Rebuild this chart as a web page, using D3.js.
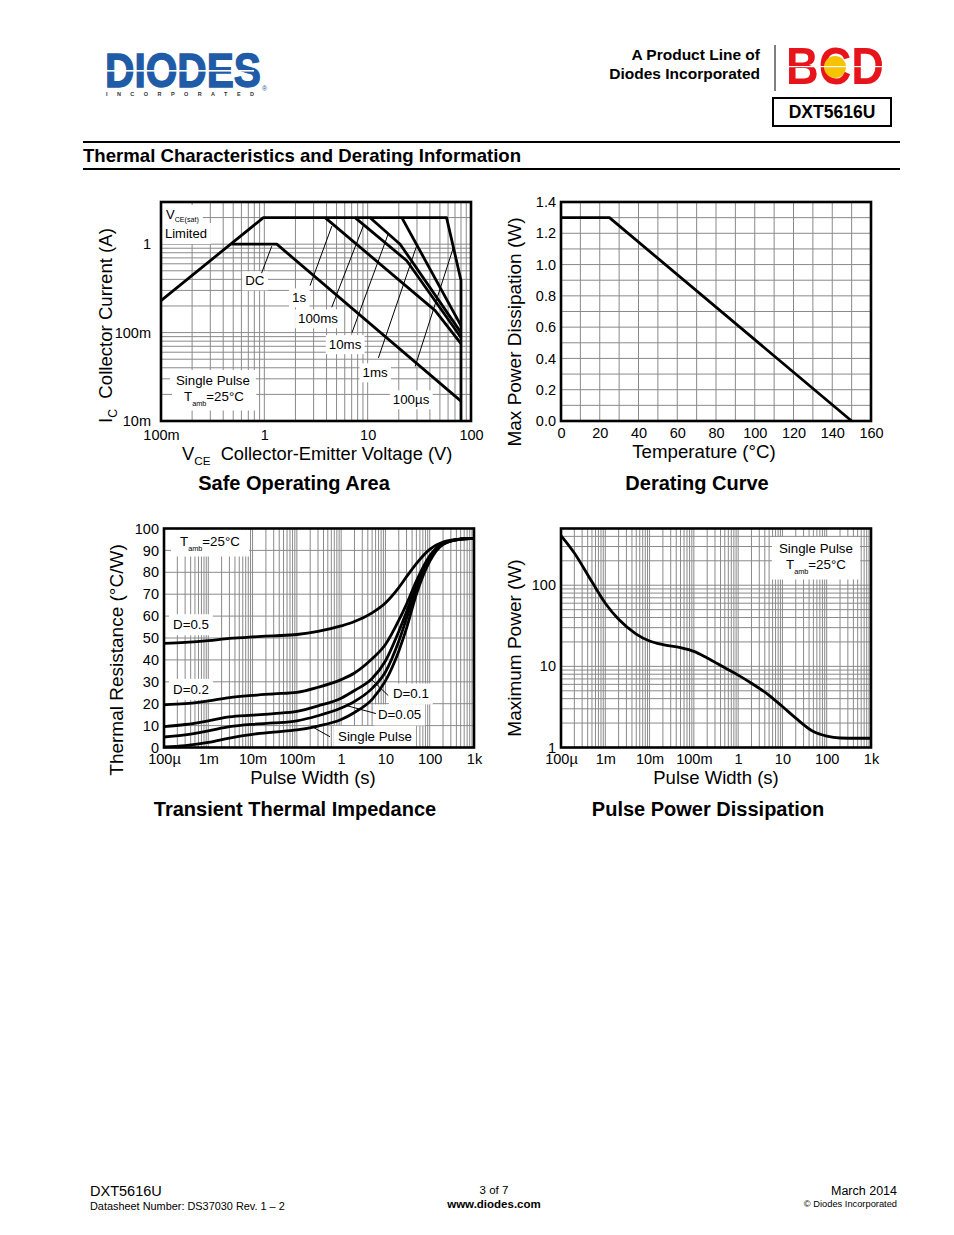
<!DOCTYPE html>
<html>
<head>
<meta charset="utf-8">
<script src="https://cdn.jsdelivr.net/npm/d3@7"></script>
<style>
  body { margin: 0; background: #fff; }
  svg { display: block; font-family: "Liberation Sans", Arial, sans-serif; }
</style>
</head>
<body>
<svg id="page" width="954" height="1235"></svg>
<script>
// ---------- data ----------
// safe operating area (V, A)
const soaXTicks = [0.1, 1, 10, 100];
const soaXLabels = ["100m", "1", "10", "100"];
const soaYTicks = [0.01, 0.1, 1];
const soaYLabels = ["10m", "100m", "1"];
const soaVsat100us = [[0.1, 0.23], [0.98, 2], [58, 2], [80, 0.39], [80, 0.01]];
const soaDC = [[0.48, 1], [1.32, 1], [80, 0.0168]];
const soa1s = [[3.87, 2], [45, 0.177], [80, 0.075]];
const soa100ms = [[7.55, 2], [23.9, 0.65], [80, 0.088]];
const soa10ms = [[10.5, 2], [20.6, 1.0], [80, 0.1]];
const soa1ms = [[21.4, 2], [80, 0.12]];
const soaLabels = [
  { text: "DC", x: 0.81, y: 0.39, from: [0.94, 0.47], to: [1.18, 0.95] },
  { text: "1s", x: 2.17, y: 0.25, from: [2.77, 0.34], to: [4.5, 1.6] },
  { text: "100ms", x: 3.31, y: 0.145, from: [4.49, 0.193], to: [9.09, 1.62] },
  { text: "10ms", x: 6.04, y: 0.074, from: [7.04, 0.0994], to: [15.9, 1.33] },
  { text: "1ms", x: 11.8, y: 0.0355, from: [12.7, 0.0517], to: [29.9, 0.97] },
  { text: "100µs", x: 26.3, y: 0.0176, from: [28.8, 0.0414], to: [67.6, 0.92] }
];

// derating
const derTemp = [0, 25, 150];
const derPower = [1.3, 1.3, 0];
const derXTicks = [0, 20, 40, 60, 80, 100, 120, 140, 160];
const derYTicks = [0, 0.2, 0.4, 0.6, 0.8, 1.0, 1.2, 1.4];

// transient thermal impedance
const pwTicks = [1e-4, 1e-3, 1e-2, 1e-1, 1, 10, 100, 1000];
const pwLabels = ["100µ", "1m", "10m", "100m", "1", "10", "100", "1k"];
const ztTime = [1e-4, 3e-4, 1e-3, 3e-3, 1e-2, 3e-2, 0.1, 0.3, 1, 2, 5, 10, 20, 30, 50, 100, 200, 500, 1000];
const ztD05 = [47.5, 48, 48.8, 49.8, 50.5, 51, 51.6, 53, 55.5, 57.5, 61.5, 66, 73, 78, 84, 90.5, 93.8, 95.2, 95.5];
const ztD02 = [19.5, 20, 21.3, 22.8, 23.8, 24.5, 25.2, 27.5, 31, 34, 40.5, 47, 58, 65.5, 76, 87.5, 93.3, 95.1, 95.5];
const ztD01 = [9.5, 10.5, 12.2, 14, 14.8, 15.5, 16.5, 19, 22.5, 26, 31.5, 39.5, 53, 62, 74, 86.5, 93.2, 95.1, 95.5];
const ztD005 = [4.8, 5.8, 7.6, 9.5, 10.6, 11.2, 12.2, 14.5, 18, 21, 27, 34.5, 48.5, 59, 72.5, 86, 93, 95.1, 95.5];
const ztSingle = [0.3, 0.9, 2.3, 4.3, 6, 7, 8, 9.8, 12.8, 16, 22, 30.4, 44, 54.5, 70, 85, 92.7, 95.1, 95.5];
const ztYTicks = [0, 10, 20, 30, 40, 50, 60, 70, 80, 90, 100];

// pulse power
const ppTime = [1e-4, 2e-4, 5e-4, 1e-3, 2e-3, 5e-3, 1e-2, 2e-2, 5e-2, 0.1, 0.2, 0.5, 1, 2, 5, 10, 20, 50, 100, 200, 500, 1000];
const ppPower = [410, 250, 110, 60, 38, 25, 20.5, 18.5, 17, 15.3, 12.7, 9.6, 7.8, 6.2, 4.4, 3.2, 2.3, 1.57, 1.38, 1.31, 1.3, 1.3];
const ppYTicks = [1, 10, 100];
const ppYLabels = ["1", "10", "100"];

// ---------- helpers ----------
const FONT = "'Liberation Sans', Arial, sans-serif";
const svg = d3.select("#page");

function logMinor(lo, hi) {
  const out = [];
  for (let e = Math.floor(Math.log10(lo)); e <= Math.ceil(Math.log10(hi)); e++) {
    for (let k = 1; k < 10; k++) {
      const v = +(k * Math.pow(10, e)).toPrecision(6);
      if (v > lo * 1.0001 && v < hi * 0.9999) out.push(v);
    }
  }
  return out;
}

function grid(g, x, y, xs, ys) {
  const [x0, x1] = x.range(), [y0, y1] = y.range();
  g.append("g").selectAll("line").data(xs).join("line")
    .attr("x1", d => x(d)).attr("x2", d => x(d)).attr("y1", y0).attr("y2", y1)
    .attr("stroke", "#8a8a8a").attr("stroke-width", 1);
  g.append("g").selectAll("line").data(ys).join("line")
    .attr("y1", d => y(d)).attr("y2", d => y(d)).attr("x1", x0).attr("x2", x1)
    .attr("stroke", "#8a8a8a").attr("stroke-width", 1);
}

function frame(g, x, y) {
  const [x0, x1] = x.range(), [y0, y1] = y.range();
  g.append("rect").attr("x", x0).attr("y", y1).attr("width", x1 - x0).attr("height", y0 - y1)
    .attr("fill", "none").attr("stroke", "#000").attr("stroke-width", 2.6);
}

function axes(g, x, y, xt, xl, yt, yl, padX, padY) {
  const ax = g.append("g").attr("transform", `translate(0,${y.range()[0]})`)
    .call(d3.axisBottom(x).tickValues(xt).tickFormat(d => xl[xt.indexOf(d)]).tickSize(0).tickPadding(padX));
  ax.select(".domain").remove();
  const ay = g.append("g").attr("transform", `translate(${x.range()[0]},0)`)
    .call(d3.axisLeft(y).tickValues(yt).tickFormat(d => yl[yt.indexOf(d)]).tickSize(0).tickPadding(padY));
  ay.select(".domain").remove();
  g.selectAll(".tick text").attr("font-size", 14.5).attr("font-family", FONT).attr("fill", "#000");
}

// text with _{sub} parts
function rich(g, x, y, str, size, anchor, subRatio, subDrop) {
  const r = subRatio || 0.55, drop = subDrop || size * 0.32;
  const t = g.append("text").attr("x", x).attr("y", y).attr("font-size", size)
    .attr("text-anchor", anchor || "start").attr("fill", "#000");
  let down = false;
  str.split(/(_\{[^}]*\})/).filter(s => s.length).forEach(p => {
    if (p.startsWith("_{")) {
      t.append("tspan").attr("font-size", size * r).attr("dy", drop).text(p.slice(2, -1));
      down = true;
    } else {
      const ts = t.append("tspan").text(p);
      if (down) { ts.attr("dy", -drop); down = false; }
    }
  });
  return t;
}

function whiteBehind(layer, t, px, py) {
  const b = t.node().getBBox();
  layer.append("rect").attr("x", b.x - px).attr("y", b.y - py)
    .attr("width", b.width + 2 * px).attr("height", b.height + 2 * py).attr("fill", "#fff");
}

function curve(g, pts, x, y, kind) {
  g.append("path").datum(pts)
    .attr("d", d3.line().x(d => x(d[0])).y(d => y(d[1])).curve(kind || d3.curveLinear))
    .attr("fill", "none").attr("stroke", "#000").attr("stroke-width", 2.8)
    .attr("stroke-linejoin", "round");
}

function leader(g, x, y, a, b) {
  g.append("line").attr("x1", x(a[0])).attr("y1", y(a[1])).attr("x2", x(b[0])).attr("y2", y(b[1]))
    .attr("stroke", "#000").attr("stroke-width", 1);
}

// ---------- header ----------
const head = svg.append("g");
head.append("text").attr("x", 105).attr("y", 87).attr("font-size", 48).attr("font-weight", "bold")
  .attr("fill", "#1f5ba6").attr("stroke", "#1f5ba6").attr("stroke-width", 1.4)
  .attr("textLength", 156).attr("lengthAdjust", "spacingAndGlyphs").text("DIODES");
head.append("rect").attr("x", 104).attr("y", 70).attr("width", 150).attr("height", 1.6).attr("fill", "#fff");
head.append("text").attr("x", 106).attr("y", 96).attr("font-size", 5.5).attr("font-weight", "bold")
  .attr("fill", "#333").attr("textLength", 148).text("INCORPORATED");
head.append("text").attr("x", 262).attr("y", 91).attr("font-size", 7).attr("fill", "#1f5ba6").text("®");

head.append("text").attr("x", 760).attr("y", 60).attr("font-size", 15.5).attr("font-weight", "bold")
  .attr("text-anchor", "end").text("A Product Line of");
head.append("text").attr("x", 760).attr("y", 79).attr("font-size", 15.5).attr("font-weight", "bold")
  .attr("text-anchor", "end").text("Diodes Incorporated");
head.append("line").attr("x1", 775).attr("x2", 775).attr("y1", 45).attr("y2", 91).attr("stroke", "#000");
head.append("text").attr("x", 786).attr("y", 84).attr("font-size", 51).attr("font-weight", "bold")
  .attr("fill", "#e8141b").attr("textLength", 98).attr("lengthAdjust", "spacingAndGlyphs").text("BCD");
head.append("circle").attr("cx", 835).attr("cy", 67).attr("r", 11).attr("fill", "#f6c300");
head.append("rect").attr("x", 786).attr("y", 66).attr("width", 98).attr("height", 1.2).attr("fill", "#fff");
head.append("rect").attr("x", 773).attr("y", 98).attr("width", 118).attr("height", 28)
  .attr("fill", "none").attr("stroke", "#000").attr("stroke-width", 2);
head.append("text").attr("x", 832).attr("y", 118).attr("font-size", 17.5).attr("font-weight", "bold")
  .attr("text-anchor", "middle").text("DXT5616U");

head.append("line").attr("x1", 83).attr("x2", 900).attr("y1", 142).attr("y2", 142).attr("stroke", "#000").attr("stroke-width", 2.2);
head.append("line").attr("x1", 83).attr("x2", 900).attr("y1", 169).attr("y2", 169).attr("stroke", "#000").attr("stroke-width", 2.2);
head.append("text").attr("x", 83).attr("y", 162).attr("font-size", 18.6).attr("font-weight", "bold")
  .text("Thermal Characteristics and Derating Information");

// ---------- safe operating area ----------
{
  const g = svg.append("g");
  const x = d3.scaleLog().domain([0.1, 100]).range([161, 471]);
  const y = d3.scaleLog().domain([0.01, 3]).range([421, 202]);
  grid(g, x, y, logMinor(0.1, 100), logMinor(0.01, 3));
  const boxes = g.append("g"), texts = g.append("g");

  const t1 = rich(texts, 166, 219, "V_{CE(sat)}", 13, "start", 0.55, 3);
  const t2 = rich(texts, 165, 238, "Limited", 13);
  whiteBehind(boxes, t1, 4, 2); whiteBehind(boxes, t2, 4, 3);
  const t3 = rich(texts, 176, 385, "Single Pulse", 13.3);
  const t4 = rich(texts, 184, 401, "T_{amb}=25°C", 13.3, "start", 0.55, 4.5);
  whiteBehind(boxes, t3, 6, 3); whiteBehind(boxes, t4, 12, 3);

  soaLabels.forEach(l => {
    const t = rich(texts, x(l.x), y(l.y) + 5, l.text, 13.3, "middle");
    whiteBehind(boxes, t, 3, 2);
    leader(texts, x, y, l.from, l.to);
  });

  [soaVsat100us, soaDC, soa1s, soa100ms, soa10ms, soa1ms].forEach(c => curve(g, c, x, y));
  frame(g, x, y);
  axes(g, x, y, soaXTicks, soaXLabels, soaYTicks, soaYLabels, 9, 10);

  const yt = g.append("g").attr("transform", "translate(112,423) rotate(-90)");
  rich(yt, 0, 0, "I_{C}\u00a0\u00a0Collector Current (A)", 18.6, "start", 0.66, 5);
  rich(g, 182, 460, "V_{CE}\u00a0\u00a0Collector-Emitter Voltage (V)", 18.3, "start", 0.64, 5);
  g.append("text").attr("x", 294).attr("y", 490).attr("font-size", 20).attr("font-weight", "bold")
    .attr("text-anchor", "middle").text("Safe Operating Area");
}

// ---------- derating curve ----------
{
  const g = svg.append("g");
  const x = d3.scaleLinear().domain([0, 160]).range([561, 871]);
  const y = d3.scaleLinear().domain([0, 1.4]).range([421, 202]);
  grid(g, x, y, d3.range(1, 16).map(i => i * 10), d3.range(1, 14).map(i => i / 10));
  curve(g, derTemp.map((t, i) => [t, derPower[i]]), x, y);
  frame(g, x, y);
  axes(g, x, y, derXTicks, derXTicks.map(String), derYTicks, derYTicks.map(d => d.toFixed(1)), 7, 5);
  const yt = g.append("g").attr("transform", "translate(521,332) rotate(-90)");
  rich(yt, 0, 0, "Max Power Dissipation (W)", 19, "middle");
  rich(g, 704, 458, "Temperature (°C)", 18.7, "middle");
  g.append("text").attr("x", 697).attr("y", 490).attr("font-size", 20).attr("font-weight", "bold")
    .attr("text-anchor", "middle").text("Derating Curve");
}

// ---------- transient thermal impedance ----------
{
  const g = svg.append("g");
  const x = d3.scaleLog().domain([1e-4, 1000]).range([164, 474]);
  const y = d3.scaleLinear().domain([0, 100]).range([747.5, 528.5]);
  grid(g, x, y, logMinor(1e-4, 1000), d3.range(1, 10).map(i => i * 10));
  const boxes = g.append("g"), texts = g.append("g");

  const tamb = rich(texts, 180, 546, "T_{amb}=25°C", 13.3, "start", 0.55, 4.5);
  whiteBehind(boxes, tamb, 9, 4);
  const labs = [
    { text: "D=0.5", t: 1.6e-4, v: 54 },
    { text: "D=0.2", t: 1.6e-4, v: 24.5 },
    { text: "D=0.1", t: 14.8, v: 22.4 },
    { text: "D=0.05", t: 6.8, v: 12.8 },
    { text: "Single Pulse", t: 0.85, v: 3 }
  ];
  labs.forEach(l => {
    const t = rich(texts, x(l.t), y(l.v), l.text, 13.3);
    whiteBehind(boxes, t, 4, 3);
  });
  leader(texts, x, y, [11.6, 23.7], [4.9, 31]);
  leader(texts, x, y, [6.1, 15.5], [1.4, 19]);
  leader(texts, x, y, [0.56, 4.9], [0.235, 9.2]);

  [ztD05, ztD02, ztD01, ztD005, ztSingle].forEach(s =>
    curve(g, ztTime.map((t, i) => [t, s[i]]), x, y, d3.curveMonotoneX));
  frame(g, x, y);
  axes(g, x, y, pwTicks, pwLabels, ztYTicks, ztYTicks.map(String), 6, 5);
  const yt = g.append("g").attr("transform", "translate(123,660) rotate(-90)");
  rich(yt, 0, 0, "Thermal Resistance (°C/W)", 19, "middle");
  rich(g, 313, 784, "Pulse Width (s)", 18.5, "middle");
  g.append("text").attr("x", 295).attr("y", 816).attr("font-size", 20).attr("font-weight", "bold")
    .attr("text-anchor", "middle").text("Transient Thermal Impedance");
}

// ---------- pulse power dissipation ----------
{
  const g = svg.append("g");
  const x = d3.scaleLog().domain([1e-4, 1000]).range([561, 871]);
  const y = d3.scaleLog().domain([1, 500]).range([747.5, 528.5]);
  grid(g, x, y, logMinor(1e-4, 1000), logMinor(1, 500));
  const boxes = g.append("g"), texts = g.append("g");
  const s1 = rich(texts, 779, 553, "Single Pulse", 13.3);
  const s2 = rich(texts, 786, 569, "T_{amb}=25°C", 13.3, "start", 0.55, 4.5);
  whiteBehind(boxes, s1, 7, 4); whiteBehind(boxes, s2, 14, 4);
  curve(g, ppTime.map((t, i) => [t, ppPower[i]]), x, y, d3.curveMonotoneX);
  frame(g, x, y);
  axes(g, x, y, pwTicks, pwLabels, ppYTicks, ppYLabels, 6, 5);
  const yt = g.append("g").attr("transform", "translate(521,648) rotate(-90)");
  rich(yt, 0, 0, "Maximum Power (W)", 19, "middle");
  rich(g, 716, 784, "Pulse Width (s)", 18.5, "middle");
  g.append("text").attr("x", 708).attr("y", 816).attr("font-size", 20).attr("font-weight", "bold")
    .attr("text-anchor", "middle").text("Pulse Power Dissipation");
}

// ---------- footer ----------
const foot = svg.append("g");
foot.append("text").attr("x", 90).attr("y", 1196).attr("font-size", 14.5).text("DXT5616U");
foot.append("text").attr("x", 90).attr("y", 1210).attr("font-size", 10.9).text("Datasheet Number: DS37030 Rev. 1 – 2");
foot.append("text").attr("x", 494).attr("y", 1194).attr("font-size", 11.5).attr("text-anchor", "middle").text("3 of 7");
foot.append("text").attr("x", 494).attr("y", 1208).attr("font-size", 11.5).attr("font-weight", "bold")
  .attr("text-anchor", "middle").text("www.diodes.com");
foot.append("text").attr("x", 897).attr("y", 1195).attr("font-size", 12.5).attr("text-anchor", "end").text("March 2014");
foot.append("text").attr("x", 897).attr("y", 1207).attr("font-size", 9.3).attr("text-anchor", "end").text("© Diodes Incorporated");
</script>
</body>
</html>
